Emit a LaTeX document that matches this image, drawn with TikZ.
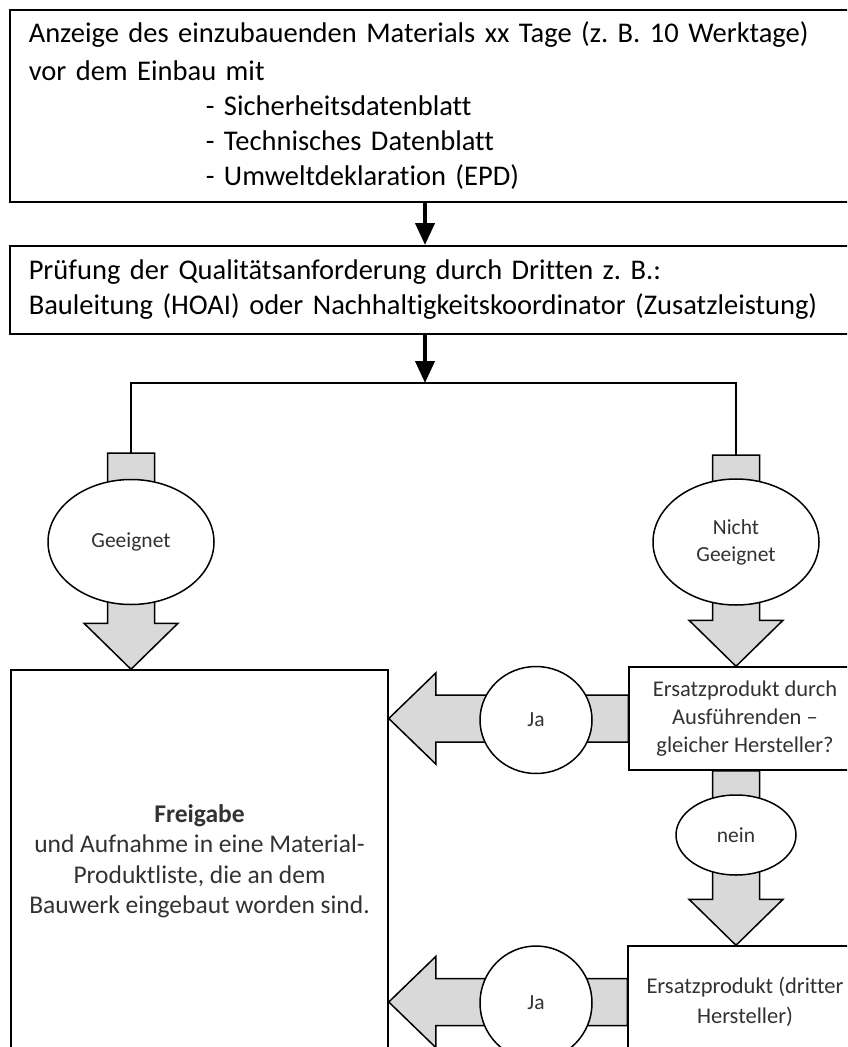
\documentclass[tikz,border=0pt]{standalone}
\usepackage{fontspec}
\setmainfont[Ligatures=NoCommon]{Carlito}
\usetikzlibrary{shapes.geometric,arrows.meta,calc}
\definecolor{arrowgray}{RGB}{217,217,217}
\definecolor{textgray}{RGB}{50,50,50}
\frenchspacing

\begin{document}
\begin{tikzpicture}[x=1pt,y=-1pt,
    box/.style={rectangle,draw,line width=1.5pt,inner sep=0pt},
    oval/.style={ellipse,draw,line width=1.5pt,fill=white,inner sep=0pt,align=center,text=textgray,font=\fontsize{21.5}{27}\selectfont},
    bigarrow/.style={line width=4pt,-{Triangle[width=19pt,length=22pt]}},
    blockdown/.style={draw,fill=arrowgray,line width=1.5pt,
      to path={let \p1=(\tikztostart), \p2=(\tikztotarget) in
        (\x1-23.5pt,\y1) -- (\x1+23.5pt,\y1) -- (\x1+23.5pt,\y2+46pt) -- (\x1+47pt,\y2+46pt)
        -- (\x1,\y2) -- (\x1-47pt,\y2+46pt) -- (\x1-23.5pt,\y2+46pt) -- cycle}},
    blockleft/.style={draw,fill=arrowgray,line width=1.5pt,
      to path={let \p1=(\tikztostart), \p2=(\tikztotarget) in
        (\x1,\y1+23.5pt) -- (\x2+47pt,\y1+23.5pt) -- (\x2+47pt,\y1+45.5pt) -- (\x2,\y1)
        -- (\x2+47pt,\y1-45.5pt) -- (\x2+47pt,\y1-23.5pt) -- (\x1,\y1-23.5pt) -- cycle}}]
  \useasboundingbox (0,0) rectangle (847,1047);
  \clip (0,0) rectangle (847,1047);

  % Anforderung und Pruefung
  \node[box,anchor=north west,text width=900pt,inner xsep=19pt,minimum height=192pt,align=left,
        font=\fontsize{28.5}{35}\selectfont] (anzeige) at (9,9)
    {Anzeige des einzubauenden Materials xx Tage (z. B. 10 Werktage)\\[3pt]
     vor dem Einbau mit\\
     \hspace*{177pt}- Sicherheitsdatenblatt\\
     \hspace*{177pt}- Technisches Datenblatt\\
     \hspace*{177pt}- Umweltdeklaration (EPD)};
  \node[box,anchor=north west,text width=900pt,inner xsep=19pt,minimum height=88pt,align=left,
        font=\fontsize{28.5}{35}\selectfont] (pruefung) at (9,245)
    {Prüfung der Qualitätsanforderung durch Dritten z. B.:\\
     Bauleitung (HOAI) oder Nachhaltigkeitskoordinator (Zusatzleistung)};

  \node[box,minimum width=377pt,minimum height=382pt,align=center,text=textgray,
        font=\fontsize{25.5}{30.5}\selectfont] (freigabe) at (199.5,861)
    {\textbf{Freigabe}\\und Aufnahme in eine Material-\\Produktliste, die an dem\\Bauwerk eingebaut worden sind.};
  \node[box,minimum width=232pt,minimum height=103pt,align=center,text=textgray,
        font=\fontsize{22.5}{28}\selectfont] (ersatz) at (745,718.5)
    {Ersatzprodukt durch\\Ausführenden –\\gleicher Hersteller?};
  \node[box,minimum width=234pt,minimum height=112pt,align=center,text=textgray,
        font=\fontsize{22.5}{30}\selectfont] (dritter) at (745,1002)
    {Ersatzprodukt (dritter\\Hersteller)};

  \coordinate (split) at (425,383);
  \coordinate (geetop) at (131,453);
  \coordinate (ngeetop) at (736,455);

  \draw[bigarrow] (anzeige.south -| split) -- (pruefung.north -| split);
  \draw[bigarrow] (pruefung.south -| split) -- (split);
  \draw[line width=1.5pt] (geetop) |- (split) -| (ngeetop);

  \draw[blockdown] (geetop) to (geetop |- freigabe.north);
  \draw[blockdown] (ngeetop) to (ngeetop |- ersatz.north);
  \draw[blockdown] (ersatz.south -| ngeetop) to (ngeetop |- dritter.north);
  \draw[blockleft] (ersatz.west) to (ersatz.west -| freigabe.east);
  \draw[blockleft] (dritter.west) to (dritter.west -| freigabe.east);

  \foreach \n/\x/\y/\w/\h/\t in {geeignet/131/542/166/125/{Geeignet}, nichtgeeignet/736/542/166/126/{Nicht\\Geeignet},
      ja1/536/720/112/107/{Ja}, nein/736/835/120/80/{nein}, ja2/536/1003/112/114/{Ja}} {
    \node[oval,minimum width=\w pt,minimum height=\h pt] (\n) at (\x,\y) {\t};
  }
\end{tikzpicture}
\end{document}
